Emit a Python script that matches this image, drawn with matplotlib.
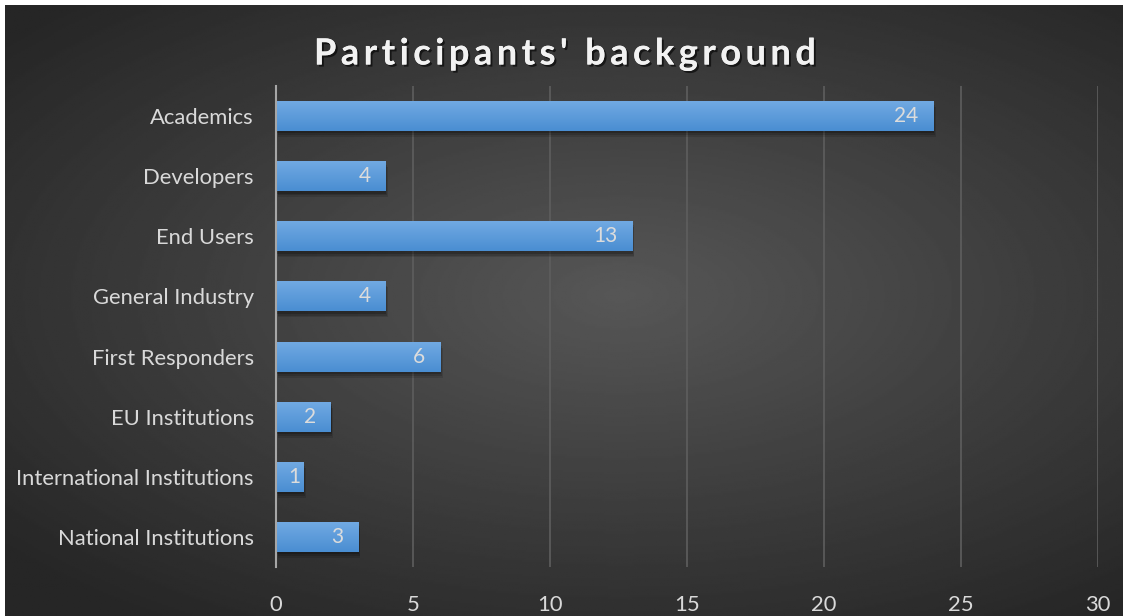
import numpy as np
import matplotlib.pyplot as plt
import matplotlib.patheffects as pe
from matplotlib.patches import Rectangle
from matplotlib.colors import LinearSegmentedColormap

categories = ['Academics', 'Developers', 'End Users', 'General Industry',
              'First Responders', 'EU Institutions', 'International Institutions',
              'National Institutions']
counts = [24, 4, 13, 4, 6, 2, 1, 3]
xticks = [0, 5, 10, 15, 20, 25, 30]

plt.rcParams['font.family'] = ['Lato', 'DejaVu Sans']

fig = plt.figure(figsize=(11.23, 6.16), dpi=100)
fig.patch.set_facecolor('white')

# radial gradient background, leaving a thin white strip top and left
bg = fig.add_axes([5 / 1123, 0, 1118 / 1123, 611 / 616])
yy, xx = np.mgrid[-1:1:300j, -1:1:600j]
r = np.sqrt(((xx - 0.1) * 0.9) ** 2 + (yy + 0.05) ** 2)
bg.imshow(0.34 - 0.19 * np.clip(r, 0, 1.3) / 1.3, cmap='gray', vmin=0, vmax=1,
          aspect='auto', extent=[0, 1, 0, 1])
bg.axis('off')

ax = fig.add_axes([276 / 1123, (616 - 567) / 616, (1098 - 276) / 1123, (567 - 86) / 616])
ax.set_facecolor('none')

y = np.arange(len(categories))
h = 0.5
grad = np.linspace(0, 1, 50).reshape(-1, 1)
bar_cmap = LinearSegmentedColormap.from_list('b', ['#72aae3', '#4a8ed2'])

for yi, v in zip(y, counts):
    # soft shadow below/right
    for k, a in [(0.10, 0.12), (0.07, 0.15), (0.04, 0.2)]:
        ax.add_patch(Rectangle((k * 0.8, yi - h / 2 + k), v, h, facecolor='black',
                               alpha=a, edgecolor='none', zorder=2))
    rect = Rectangle((0, yi - h / 2), v, h, facecolor='none', edgecolor='none', zorder=3)
    ax.add_patch(rect)
    im = ax.imshow(grad, cmap=bar_cmap, aspect='auto',
                   extent=[0, v, yi + h / 2, yi - h / 2], zorder=3)
    im.set_clip_path(rect)
    ax.text(max(v - 0.55, 0.9), yi, str(v), ha='right', va='center',
            color='#dcdcdc', fontsize=15, zorder=4)

ax.set_xlim(0, 30)
ax.set_ylim(len(categories) - 0.5, -0.5)
ax.set_yticks(y)
ax.set_yticklabels(categories)
ax.set_xticks(xticks)
ax.tick_params(axis='both', length=0, colors='#d9d9d9', labelsize=15.8)
ax.tick_params(axis='y', pad=16)
ax.tick_params(axis='x', pad=20)
ax.grid(axis='x', color='#5e5e5e', linewidth=1.2, zorder=0)
ax.set_axisbelow(True)
for s in ['top', 'right', 'bottom']:
    ax.spines[s].set_visible(False)
ax.spines['left'].set_color('#a6a6a6')
ax.spines['left'].set_linewidth(1.5)
ax.spines['left'].set_zorder(5)

title = "Participants' background"
spaced = '\u2009'.join(title).replace('\u2009 \u2009', '  ')
fig.text(565 / 1123, 1 - 54 / 616, spaced,
         ha='center', va='center', fontsize=26, fontweight='bold', color='#f2f2f2',
         path_effects=[pe.withSimplePatchShadow(offset=(1.5, -1.5), shadow_rgbFace='black', alpha=0.6), pe.Normal()])

fig.savefig('out.png', dpi=100)
